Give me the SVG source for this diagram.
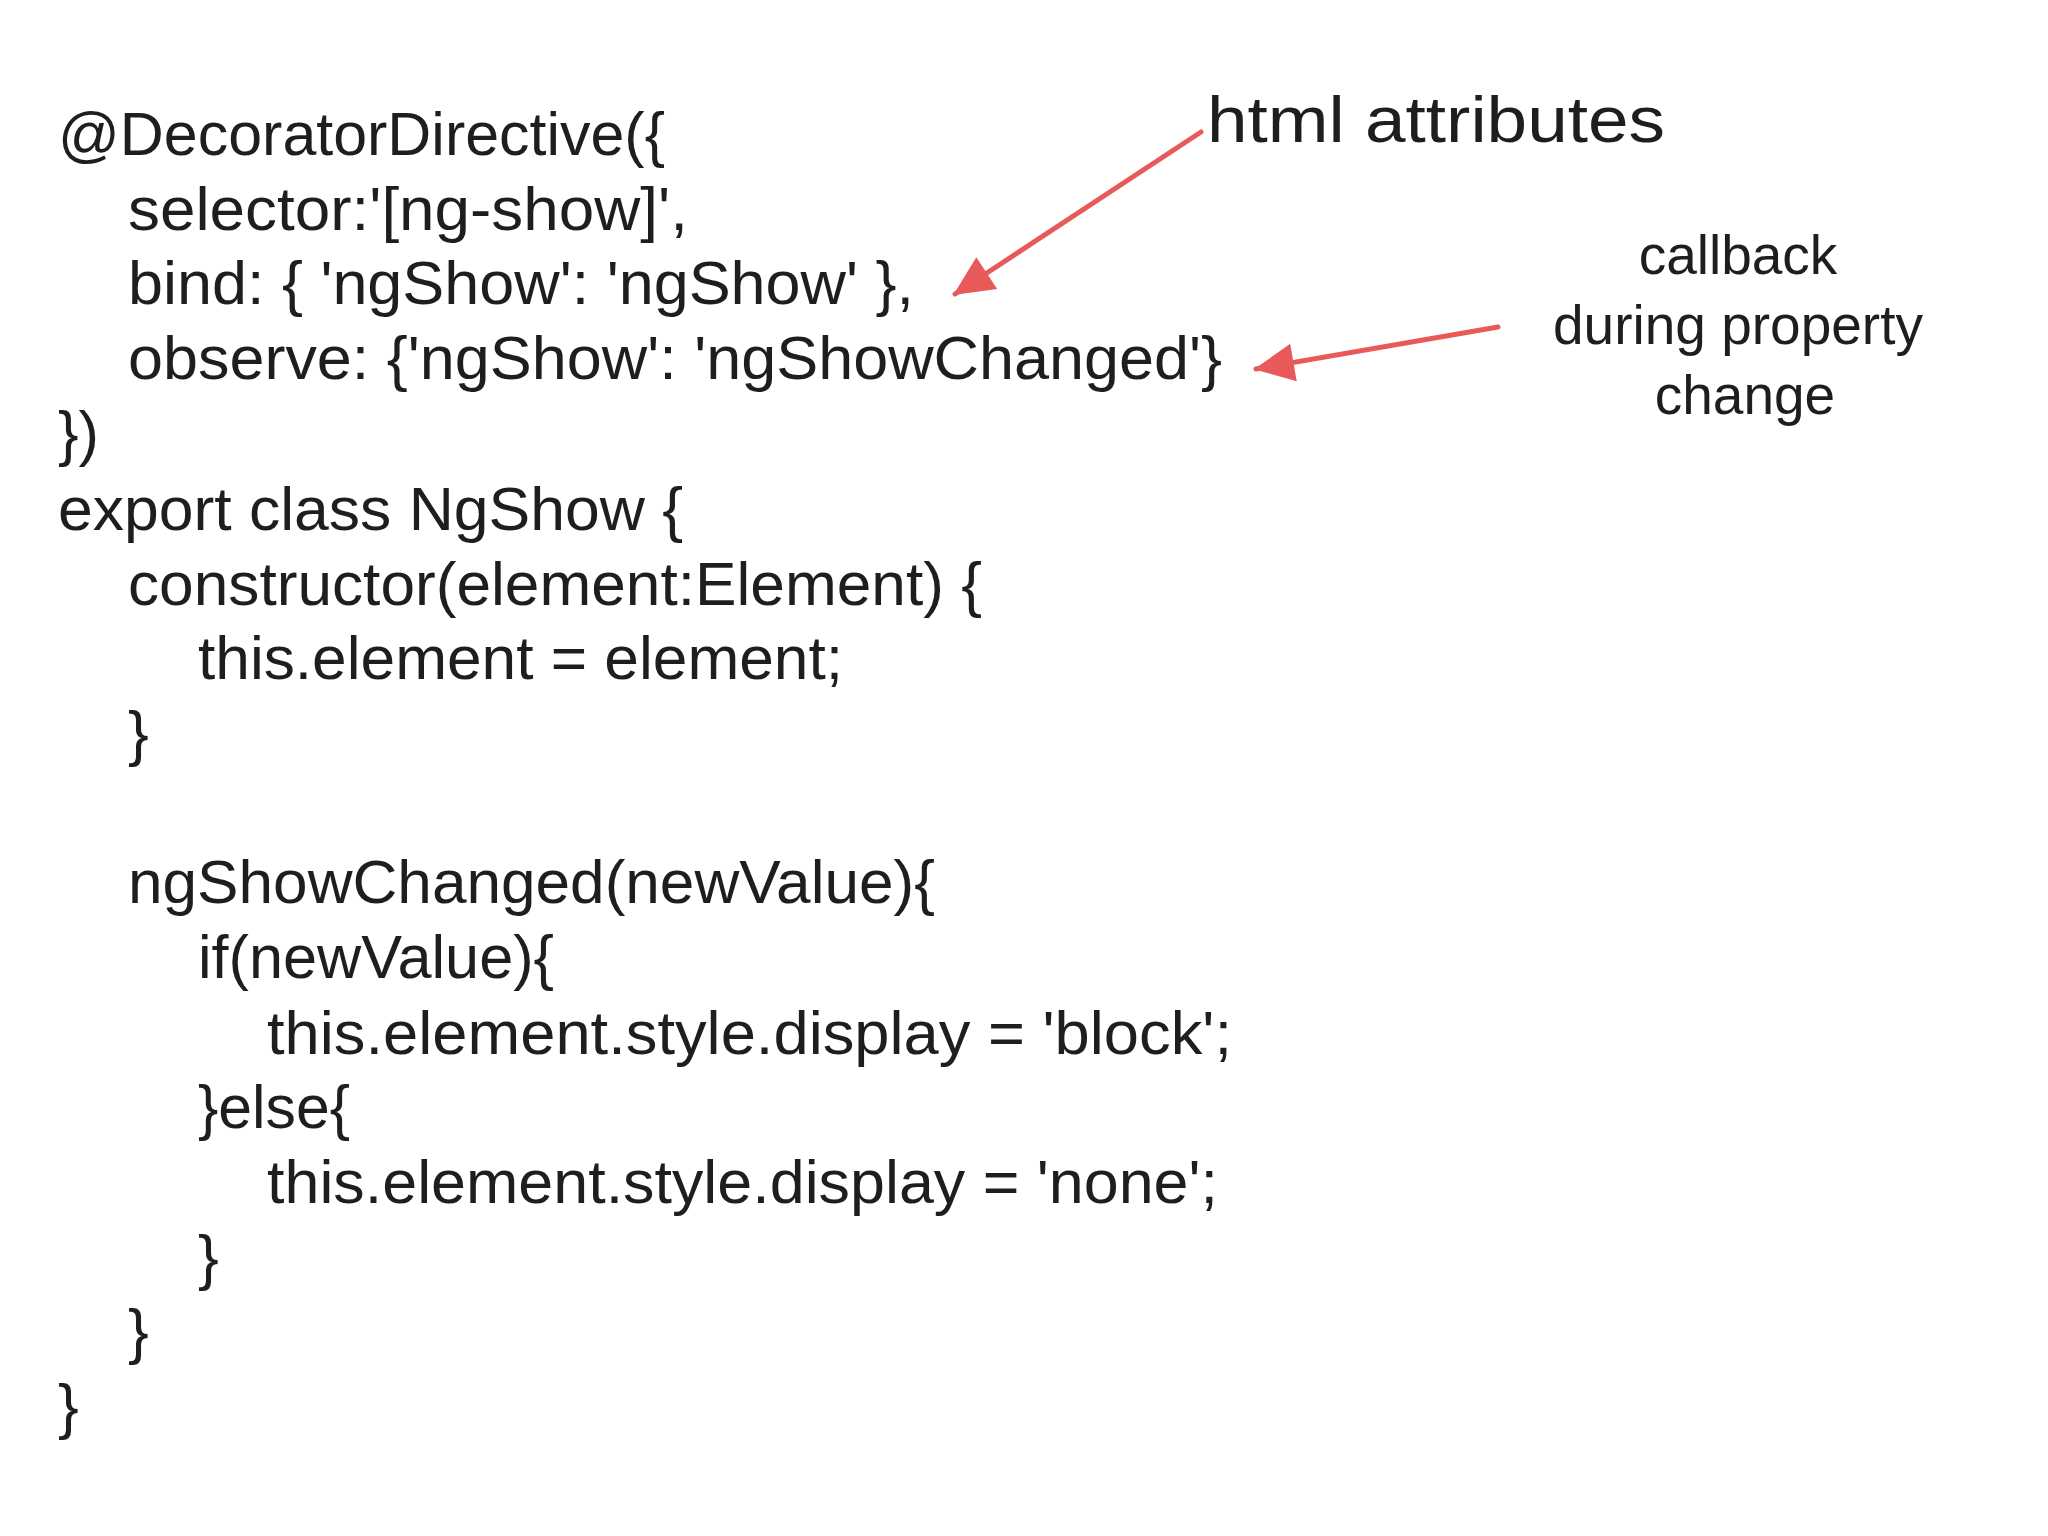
<svg xmlns="http://www.w3.org/2000/svg" width="2048" height="1536" viewBox="0 0 2048 1536">
<style>
.c{font-family:"Liberation Sans",Arial,sans-serif;font-size:62px;fill:#1e1e1e}
.a{font-family:"Liberation Sans",Arial,sans-serif;font-size:55px;fill:#1e1e1e;text-anchor:middle}
.r{stroke:#e8595a;stroke-width:5;fill:none;stroke-linecap:round}
</style>
<defs><marker id="ah" markerWidth="10" markerHeight="10" refX="8" refY="5" orient="auto" markerUnits="userSpaceOnUse" viewBox="0 0 10 10" style="overflow:visible"><path d="M-30,-14 L10,5 L-30,24 Z" fill="#e8595a"/></marker></defs>
<rect width="2048" height="1536" fill="#fff"/>
<g id="code">
<text class="c" x="58" y="155" textLength="607" lengthAdjust="spacingAndGlyphs">@DecoratorDirective({</text>
<text class="c" x="128" y="230" textLength="560" lengthAdjust="spacingAndGlyphs">selector:'[ng-show]',</text>
<text class="c" x="128" y="304" textLength="786" lengthAdjust="spacingAndGlyphs">bind: { 'ngShow': 'ngShow' },</text>
<text class="c" x="128" y="379" textLength="1094" lengthAdjust="spacingAndGlyphs">observe: {'ngShow': 'ngShowChanged'}</text>
<text class="c" x="58" y="454" textLength="41" lengthAdjust="spacingAndGlyphs">})</text>
<text class="c" x="58" y="530" textLength="625" lengthAdjust="spacingAndGlyphs">export class NgShow {</text>
<text class="c" x="128" y="605" textLength="854" lengthAdjust="spacingAndGlyphs">constructor(element:Element) {</text>
<text class="c" x="198" y="679" textLength="645" lengthAdjust="spacingAndGlyphs">this.element = element;</text>
<text class="c" x="128" y="754">}</text>
<text class="c" x="128" y="903" textLength="807" lengthAdjust="spacingAndGlyphs">ngShowChanged(newValue){</text>
<text class="c" x="198" y="978" textLength="356" lengthAdjust="spacingAndGlyphs">if(newValue){</text>
<text class="c" x="267" y="1054" textLength="965" lengthAdjust="spacingAndGlyphs">this.element.style.display = 'block';</text>
<text class="c" x="198" y="1128" textLength="152" lengthAdjust="spacingAndGlyphs">}else{</text>
<text class="c" x="267" y="1203" textLength="951" lengthAdjust="spacingAndGlyphs">this.element.style.display = 'none';</text>
<text class="c" x="198" y="1278">}</text>
<text class="c" x="128" y="1352">}</text>
<text class="c" x="58" y="1427">}</text>
</g>
<g id="html-attributes"><text class="c" x="1207" y="142" textLength="458" lengthAdjust="spacingAndGlyphs" style="font-size:64px">html attributes</text></g>
<g id="callback">
<text class="a" x="1738" y="274">callback</text>
<text class="a" x="1738" y="344">during property</text>
<text class="a" x="1745" y="414">change</text>
</g>
<g id="connectors">
<line class="r" x1="1201" y1="132" x2="955" y2="294" marker-end="url(#ah)"/>
<line class="r" x1="1498" y1="327" x2="1256" y2="369" marker-end="url(#ah)"/>
</g>
</svg>
